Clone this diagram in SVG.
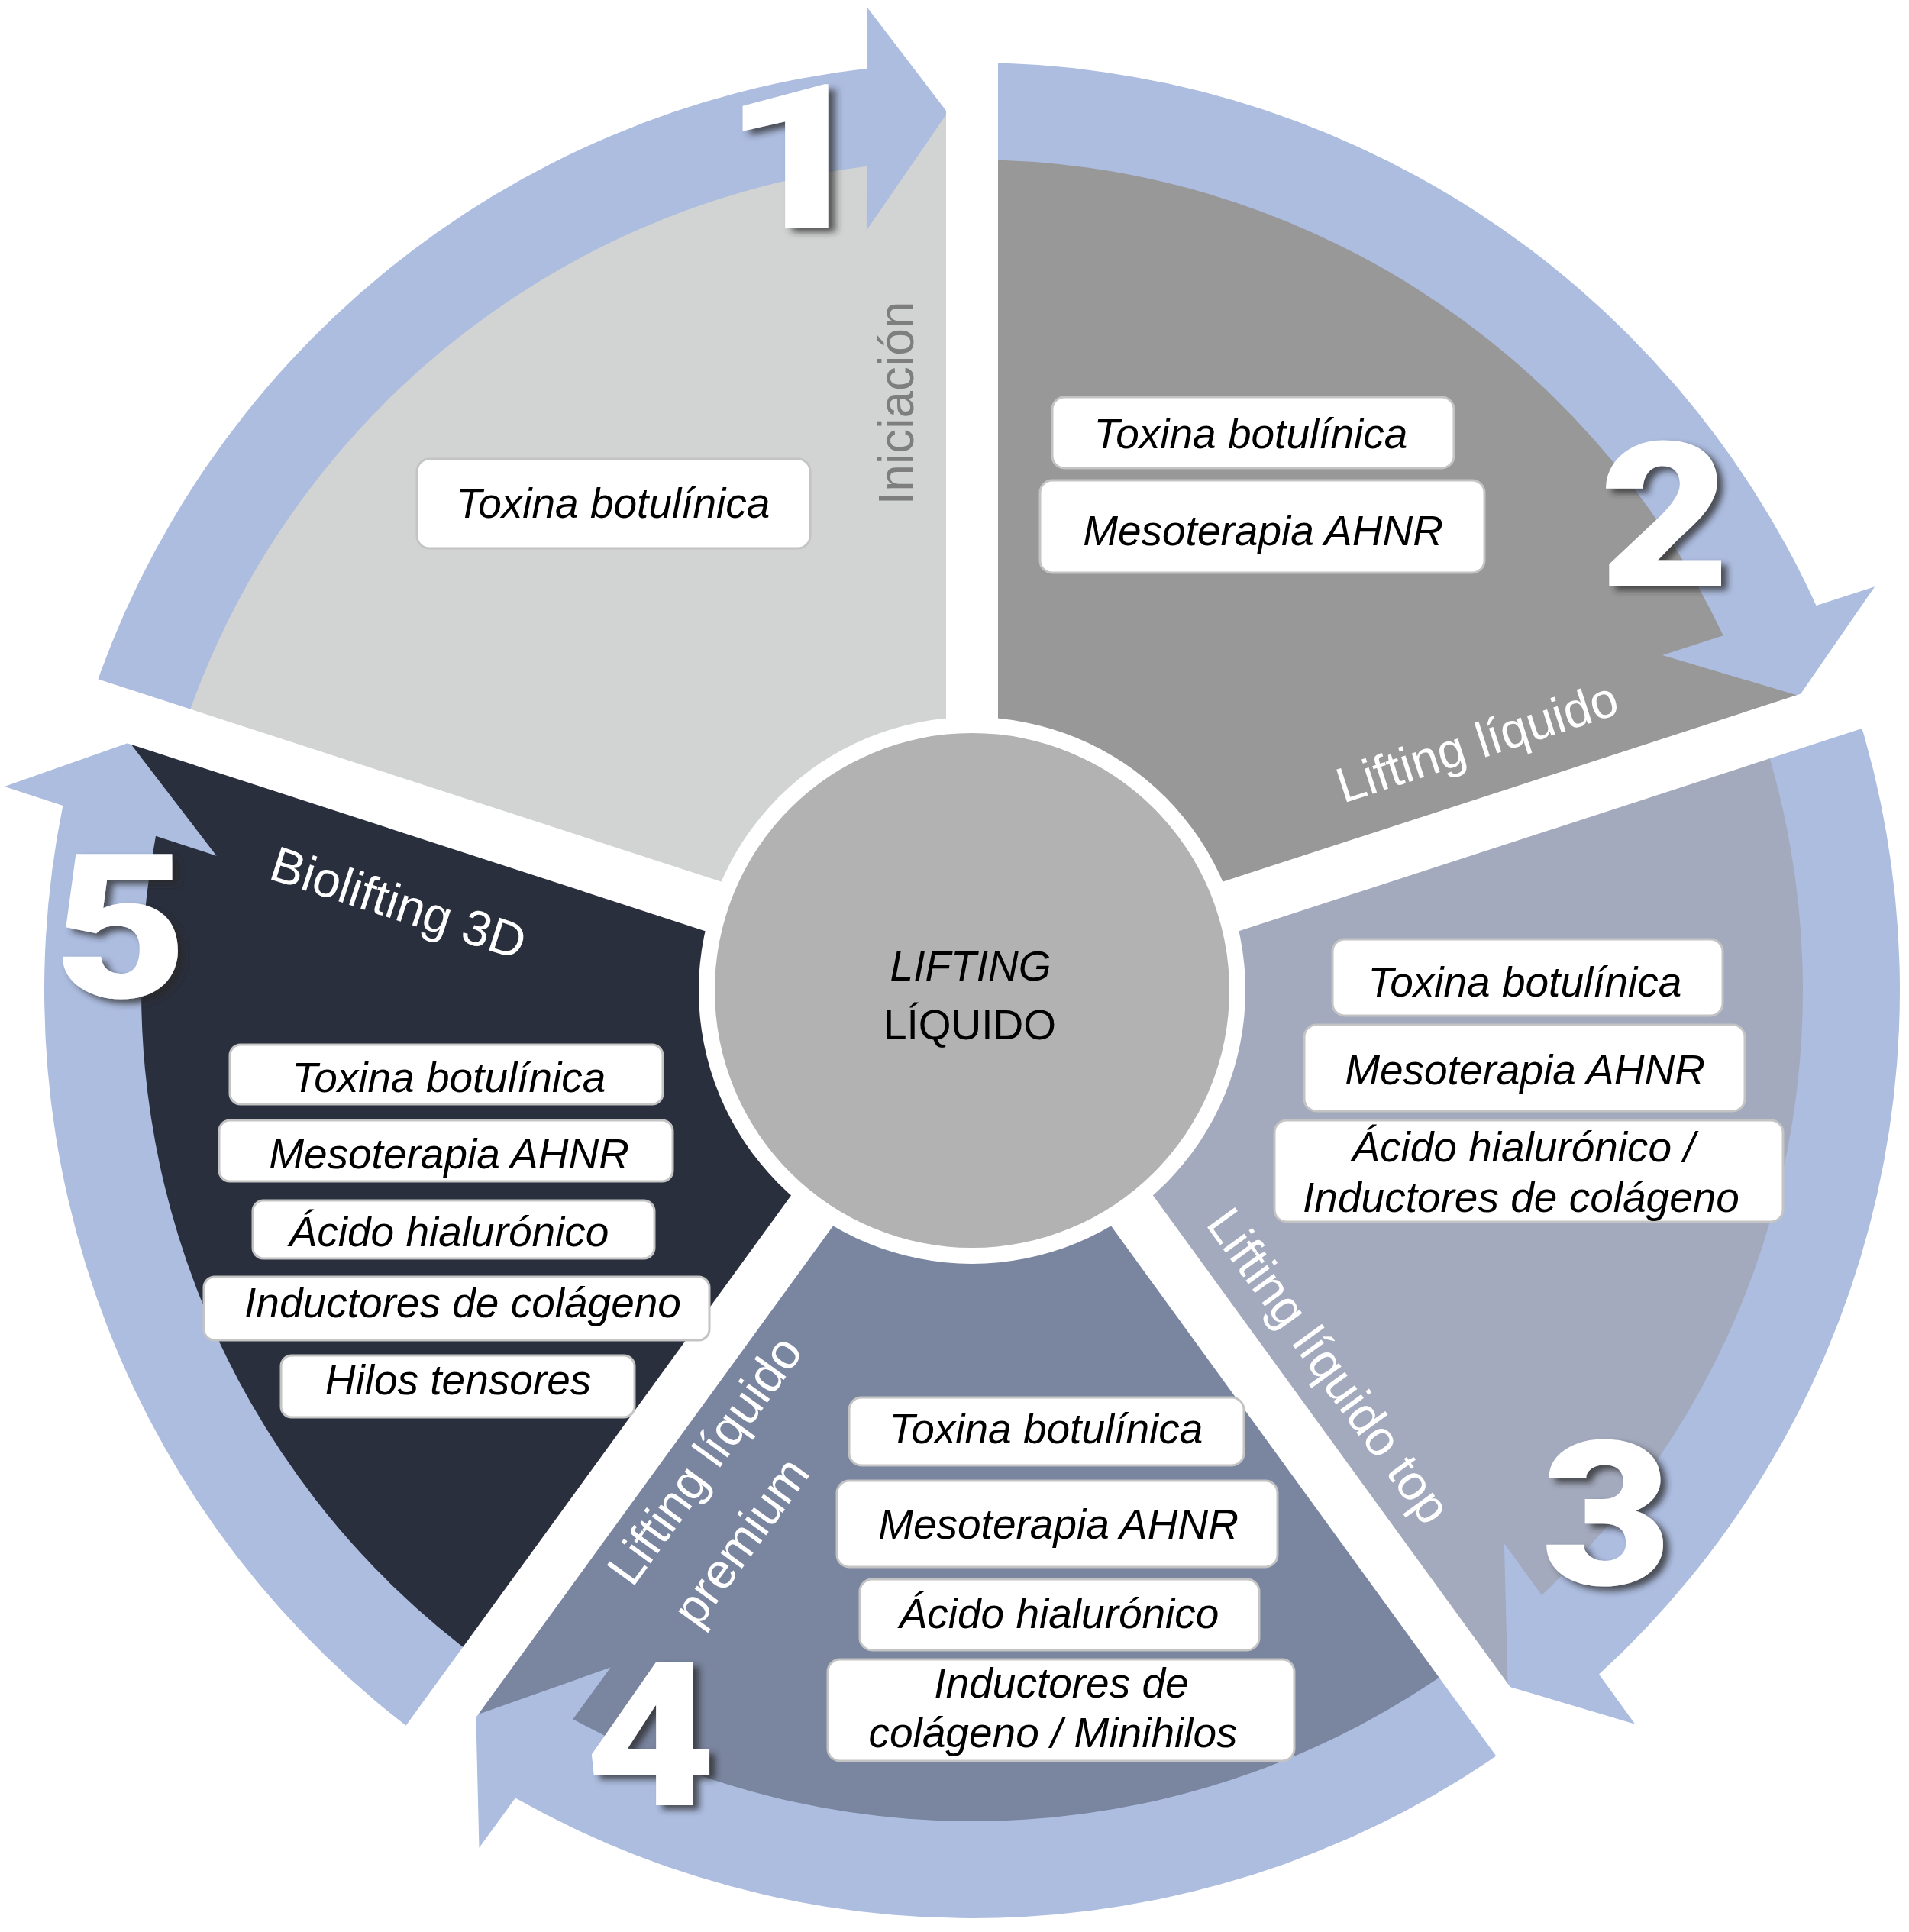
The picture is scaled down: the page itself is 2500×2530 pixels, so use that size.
<svg xmlns="http://www.w3.org/2000/svg" width="2500" height="2530" viewBox="0 0 2500 2530">
<style>
.s1{fill:#d2d3d3}.s2{fill:#989898}.s3{fill:#a3aabd}.s4{fill:#7a85a0}.s5{fill:#2a2f3e}
.arr{fill:#adbde0}
.gap{fill:#fff}
.box{fill:#fff;stroke:#c4c4c4;stroke-width:3}
.bt{font-family:"Liberation Sans",Arial,sans-serif;font-style:italic;font-size:55px;text-anchor:middle;fill:#000}
.lbl{font-family:"Liberation Sans",Arial,sans-serif;font-size:65px;fill:#fff}
.num{font-family:Roboto,"Liberation Sans",Arial,sans-serif;font-weight:900;font-size:264px;fill:#fff;text-anchor:middle;filter:url(#sh)}
.ctr{font-family:"Liberation Sans",Arial,sans-serif;font-size:55px;text-anchor:middle;fill:#000}
</style>
<defs>
<filter id="sh" x="-30%" y="-30%" width="170%" height="170%">
<feDropShadow dx="7" dy="6" stdDeviation="4" flood-color="#262626" flood-opacity="0.75"/>
</filter>
<path id="arrowShape" class="arr" d="M 117.47 921.54 A 1215 1215 0 0 1 1135.2 89.85 L 1135.39 9.33 L 1240.89 147.45 L 1134.87 301.54 L 1135.0 217.8 A 1088 1088 0 0 0 238.25 960.79 Z"/>
<rect id="gapStrip" class="gap" x="-34" y="-1330" width="68" height="1330"/>
</defs>
<rect width="2500" height="2530" fill="#fff"/>
<g id="sectors">
<path class="s1" d="M1273 1297 L 179.3 941.6 A 1150 1150 0 0 1 1273 147 Z"/>
<path class="s2" d="M1273 1297 L 1273 147 A 1150 1150 0 0 1 2366.7 941.6 Z"/>
<path class="s3" d="M1273 1297 L 2366.7 941.6 A 1150 1150 0 0 1 1948.9 2227.4 Z"/>
<path class="s4" d="M1273 1297 L 1948.9 2227.4 A 1150 1150 0 0 1 597.1 2227.4 Z"/>
<path class="s5" d="M1273 1297 L 597.1 2227.4 A 1150 1150 0 0 1 179.3 941.6 Z"/>
</g>
<g id="connectors">
<use href="#arrowShape"/>
<use href="#arrowShape" transform="rotate(72 1273 1297)"/>
<use href="#arrowShape" transform="rotate(144 1273 1297)"/>
<use href="#arrowShape" transform="rotate(216 1273 1297)"/>
<use href="#arrowShape" transform="rotate(288 1273 1297)"/>
</g>
<g id="gaps">
<use href="#gapStrip" transform="translate(1273 1297)"/>
<use href="#gapStrip" transform="translate(1273 1297) rotate(72)"/>
<use href="#gapStrip" transform="translate(1273 1297) rotate(144)"/>
<use href="#gapStrip" transform="translate(1273 1297) rotate(216)"/>
<use href="#gapStrip" transform="translate(1273 1297) rotate(288)"/>
</g>
<g id="hub">
<circle cx="1273" cy="1297" r="358" fill="#fff"/>
<circle cx="1273" cy="1297" r="337" fill="#b2b2b2"/>
<text class="ctr" x="1271" y="1284" font-style="italic">LIFTING</text>
<text class="ctr" x="1270" y="1361">LÍQUIDO</text>
</g>
<g id="stage-1">
<rect class="box" x="546" y="601" width="515" height="117" rx="16"/>
<text class="bt" x="803" y="678">Toxina botulínica</text>
<text transform="translate(1196 528) rotate(-90)" font-family="Liberation Sans, Arial, sans-serif" font-size="64" fill="#7e7e7e" text-anchor="middle">Iniciación</text>
<text class="num" transform="translate(1044 298) scale(1.3 1)">1</text>
</g>
<g id="stage-2">
<rect class="box" x="1378" y="520" width="526" height="93" rx="16"/>
<text class="bt" x="1638" y="587">Toxina botulínica</text>
<rect class="box" x="1362" y="629" width="582" height="121" rx="16"/>
<text class="bt" x="1654" y="714">Mesoterapia AHNR</text>
<text class="lbl" transform="translate(1759 1052) rotate(-18)">Lifting líquido</text>
<text class="num" transform="translate(2180 767) scale(1.12 1)">2</text>
</g>
<g id="stage-3">
<rect class="box" x="1745" y="1230" width="511" height="100" rx="16"/>
<text class="bt" x="1997" y="1305">Toxina botulínica</text>
<rect class="box" x="1708" y="1342" width="577" height="113" rx="16"/>
<text class="bt" x="1997" y="1420">Mesoterapia AHNR</text>
<rect class="box" x="1669" y="1467" width="666" height="133" rx="16"/>
<text class="bt" x="1995" y="1521">Ácido hialurónico /</text>
<text class="bt" x="1992" y="1587">Inductores de colágeno</text>
<text class="lbl" font-size="64" transform="translate(1578 1603) rotate(54)">Lifting líquido top</text>
<text class="num" transform="translate(2104 2075) scale(1.12 1)">3</text>
</g>
<g id="stage-4">
<rect class="box" x="1112" y="1830" width="517" height="89" rx="16"/>
<text class="bt" x="1370" y="1890">Toxina botulínica</text>
<rect class="box" x="1096" y="1939" width="577" height="113" rx="16"/>
<text class="bt" x="1386" y="2015">Mesoterapia AHNR</text>
<rect class="box" x="1126" y="2068" width="523" height="93" rx="16"/>
<text class="bt" x="1387" y="2132">Ácido hialurónico</text>
<rect class="box" x="1084" y="2173" width="611" height="133" rx="16"/>
<text class="bt" x="1390" y="2223">Inductores de</text>
<text class="bt" x="1379" y="2288">colágeno / Minihilos</text>
<g transform="translate(828 2080) rotate(-54)">
<text class="lbl" x="0" y="0">Lifting líquido</text>
<text class="lbl" x="7" y="101">premium</text>
</g>
<text class="num" transform="translate(852 2364) scale(1.12 1)">4</text>
</g>
<g id="stage-5">
<rect class="box" x="301" y="1368" width="567" height="78" rx="14"/>
<text class="bt" x="588" y="1430">Toxina botulínica</text>
<rect class="box" x="287" y="1467" width="594" height="80" rx="14"/>
<text class="bt" x="588" y="1530">Mesoterapia AHNR</text>
<rect class="box" x="331" y="1572" width="526" height="76" rx="14"/>
<text class="bt" x="588" y="1632">Ácido hialurónico</text>
<rect class="box" x="267" y="1672" width="662" height="83" rx="14"/>
<text class="bt" x="606" y="1725">Inductores de colágeno</text>
<rect class="box" x="368" y="1775" width="463" height="81" rx="14"/>
<text class="bt" x="600" y="1826">Hilos tensores</text>
<text class="lbl" font-size="56" transform="translate(350 1150) rotate(18)">Biolifting 3D</text>
<text class="num" transform="translate(158 1306) scale(1.15 1)">5</text>
</g>
</svg>
